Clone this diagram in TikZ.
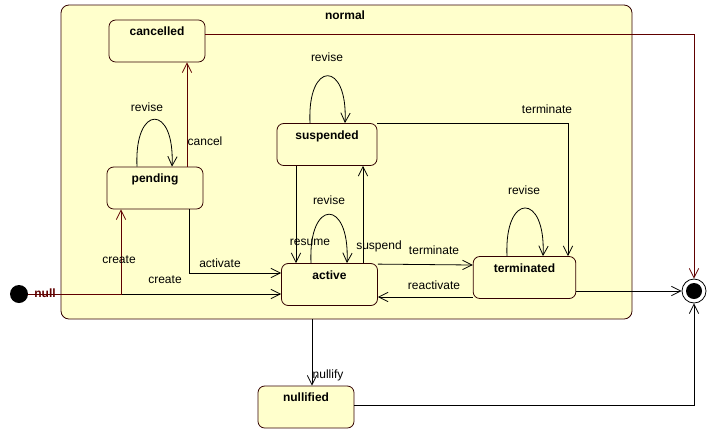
\documentclass[tikz,border=0pt]{standalone}
\usepackage{fontspec}
\setmainfont{Liberation Sans}
\usetikzlibrary{arrows.meta,calc}
\definecolor{bg}{RGB}{255,255,204}
\definecolor{maroon}{RGB}{96,0,0}
\tikzset{
  stbox/.style={draw=black!80!red, fill=bg, rounded corners=5pt, minimum width=72pt,
    minimum height=31.5pt, inner sep=0pt,
    label={[anchor=north, yshift=-2pt, font=\fontsize{9}{11}\selectfont\bfseries]north:#1}},
  arr/.style={-{Straight Barb[length=7pt,width=7pt]}},
}
\begin{document}
\begin{tikzpicture}[x=0.75pt, y=-0.75pt, line width=0.6pt,
    every node/.style={font=\fontsize{9}{11}\selectfont}]
                \useasboundingbox (0,0) rectangle (709,437);
                % container state
                \node[draw=black!80!red, fill=bg, rounded corners=6pt, minimum width=428.25pt,
                  minimum height=235.5pt, inner sep=0pt] (normal) at (346.5,162) {};
                \node[font=\fontsize{9}{11}\selectfont\bfseries] at (345,15) {normal};
                % states
                \node[stbox=cancelled] (cancelled) at (157,41) {};
                \node[stbox=pending] (pending) at (155,188) {};
                \node[stbox=suspended, minimum width=75pt] (suspended) at (327,144.5) {};
                \node[stbox=active] (active) at (329.5,284.5) {};
                \node[stbox=terminated, minimum width=77pt] (terminated) at (524.5,277.5) {};
                \node[stbox=nullified] (nullified) at (306,407) {};
                \node[circle, fill=black, minimum size=13.5pt, inner sep=0pt] (init) at (19,294) {};
                \node[circle, draw=black, fill=white, minimum size=18pt, inner sep=0pt] (final) at (694,291) {};
                \fill (final) circle (6pt);
                % initial transitions
                \coordinate (fork) at (121,294);
                \draw[arr] (init) -- (active.west |- init);
                \draw[arr, maroon] (init) -- (fork) -- (fork |- pending.south);
                \node[font=\fontsize{9}{11}\selectfont\bfseries, text=maroon] (nulllbl) at (45,293) {null};
                \node at (119,260) {create};
                \node at (165,280) {create};
                % pending
                \draw[arr] ($(pending.north)+(-18,0)$) .. controls +(-3,-63) and +(3,-63) .. ($(pending.north)+(17,0)$);
                \node at (147,107) {revise};
                \draw[arr, maroon] ($(pending.north)+(32,0)$) -- ($(cancelled.south)+(30,0)$);
                \node at (205,141) {cancel};
                \draw[arr] ($(pending.south)+(34,0)$) |- ($(active.west)+(0,-11.5)$);
                \node at (220,263) {activate};
                % suspended and active
                \draw[arr] ($(suspended.north)+(-17,0)$) .. controls +(-3,-63) and +(3,-63) .. ($(suspended.north)+(18,0)$);
                \node at (327,57) {revise};
                \draw[arr] ($(suspended.south)+(-31,0)$) -- ($(active.north)+(-33.5,0)$);
                \node at (310,242) {resume};
                \draw[arr] ($(active.north)+(33.5,0)$) -- ($(suspended.south)+(36,0)$);
                \node at (379,246) {suspend};
                \draw[arr] ($(active.north)+(-18.5,0)$) .. controls +(-3,-65) and +(3,-65) .. ($(active.north)+(17.5,0)$);
                \node at (329,200) {revise};
                \draw[arr] (suspended.north east) -| ($(terminated.north)+(43.5,0)$);
                \node at (547,109) {terminate};
                % terminated
                \draw[arr] ($(active.north east)+(0,1)$) -- ($(terminated.west)+(0,-12.5)$);
                \node at (434,250) {terminate};
                \draw[arr] ($(terminated.west)+(0,19.5)$) -- ($(active.east)+(0,12.5)$);
                \node at (434,285) {reactivate};
                \draw[arr] ($(terminated.north)+(-17.5,0)$) .. controls +(-3,-64) and +(3,-64) .. ($(terminated.north)+(18.5,0)$);
                \node at (524,190) {revise};
                % to the final state
                \draw[arr] ($(terminated.east)+(0,13.5)$) -- (final.west);
                \draw[arr, maroon] ($(cancelled.east)+(0,-7)$) -| (final.north);
                \draw[arr] (normal.south -| 312,0) -- (nullified.north -| 312,0);
                \node at (328,375) {nullify};
                \draw[arr] ($(nullified.east)+(0,-2)$) -| (final.south);
            \end{tikzpicture}
\end{document}
